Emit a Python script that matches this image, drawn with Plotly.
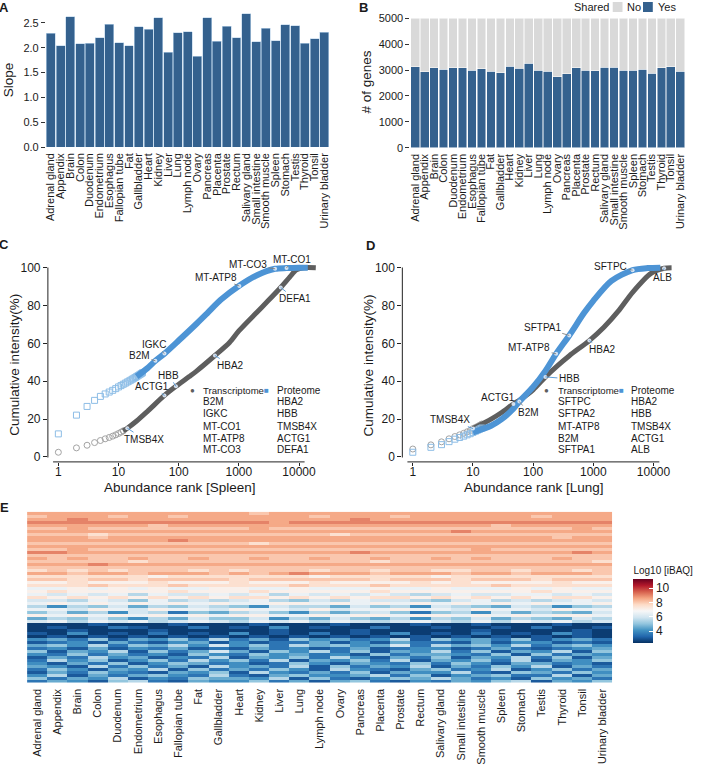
import math
import plotly.graph_objects as go

W, H = 703, 767
def px(x): return x / W
def py(y): return 1 - y / H

FONT = "Liberation Sans, Arial, Helvetica, sans-serif"
TXT = "#1a1a1a"
BAR_BLUE = "#34618E"
NO_GREY = "#D9D9D9"
PROT_BLUE = "#4D94D5"
PROT_LIGHT = "#8DBDE6"
TRANS_GREY = "#5E5E5E"
TRANS_LIGHT = "#A3A3A3"

# ---------------- data ----------------
tissues = ["Adrenal gland", "Appendix", "Brain", "Colon", "Duodenum", "Endometrium",
           "Esophagus", "Fallopian tube", "Fat", "Gallbladder", "Heart", "Kidney",
           "Liver", "Lung", "Lymph node", "Ovary", "Pancreas", "Placenta", "Prostate",
           "Rectum", "Salivary gland", "Small intestine", "Smooth muscle", "Spleen",
           "Stomach", "Testis", "Thyroid", "Tonsil", "Urinary bladder"]

slope = [2.29, 2.04, 2.63, 2.08, 2.09, 2.20, 2.47, 2.10, 2.04, 2.42, 2.37, 2.61, 1.91,
         2.30, 2.32, 1.83, 2.61, 2.13, 2.43, 2.20, 2.69, 2.12, 2.39, 2.14, 2.46, 2.44,
         2.09, 2.18, 2.31]

shared_yes = [3120, 2930, 3090, 3030, 3080, 3080, 2990, 3050, 2950, 2900, 3140, 3070,
              3270, 3000, 2960, 2750, 2860, 3090, 3000, 2980, 3110, 3110, 3000, 3000,
              3040, 2870, 3090, 3120, 2960]
shared_no = [1880, 2070, 1910, 1970, 1920, 1920, 2010, 1950, 2050, 2100, 1860, 1930,
             1730, 2000, 2040, 2250, 2140, 1910, 2000, 2020, 1890, 1890, 2000, 2000,
             1960, 2130, 1910, 1880, 2040]

rank_ticks = [1, 10, 100, 1000, 10000]
pct_ticks = [0, 20, 40, 60, 80, 100]

# Spleen (panel C)
spleen_trans_pt_rank = [1, 2, 3, 4, 5, 6, 7, 8, 9, 10, 11, 12]
spleen_trans_pt = [2.5, 4.8, 6.2, 7.6, 8.7, 9.6, 10.3, 11.0, 11.7, 12.4, 13.1, 13.8]
spleen_trans_rank = [12, 14, 20, 30, 58, 90, 150, 200, 400, 700, 1000, 2000, 3000, 4960,
                     7000, 9000, 12000, 19000]
spleen_trans = [13.8, 15.2, 19, 24, 32.5, 37.3, 42.5, 45.5, 53.6, 60.5, 66.6, 76.5, 82.2,
                89.5, 95, 98.8, 100, 100]
spleen_prot_pt_rank = list(range(1, 26))
spleen_prot_pt = [12.2, 22.1, 26.7, 29.9, 32.0, 33.3, 34.3, 35.2, 36.1, 37.0, 37.7, 38.4,
                  39.0, 39.6, 40.1, 40.6, 41.1, 41.6, 42.0, 42.5, 42.9, 43.3, 43.7, 44.1,
                  44.5]
spleen_prot_rank = [20, 30, 41, 58, 100, 200, 300, 500, 1000, 2000, 4000, 6200, 10000,
                    14000]
spleen_prot = [42.5, 46.8, 50.8, 54.6, 61.5, 70.5, 76, 83, 90.3, 96, 99.4, 99.8, 100, 100]

spleen_trans_top = ["B2M", "IGKC", "MT-CO1", "MT-ATP8", "MT-CO3"]
spleen_prot_top = ["HBA2", "HBB", "TMSB4X", "ACTG1", "DEFA1"]
# (gene, rank, value, dx, dy) labels on the proteome curve
spleen_lab_prot = [("B2M", 41, 50.8, -16, -5), ("IGKC", 58, 54.6, -10, -9),
                   ("MT-ATP8", 1020, 90.3, -23, -9), ("MT-CO3", 4000, 99.4, -27, -4),
                   ("MT-CO1", 6200, 99.8, 5, -9)]
# labels on the transcriptome curve
spleen_lab_trans = [("DEFA1", 4960, 89.5, 14, 11), ("HBA2", 400, 53.6, 16, 10),
                    ("HBB", 90, 37.3, -7, -11), ("ACTG1", 58, 32.5, -12, -9),
                    ("TMSB4X", 14, 15.2, 17, 11)]

# Lung (panel D)
lung_trans_pt_rank = list(range(1, 15))
lung_trans_pt = [4.2, 6.4, 8.0, 9.6, 10.8, 11.7, 12.5, 13.3, 14.0, 15.0, 15.6, 16.2,
                 16.8, 17.4]
lung_trans_rank = [10, 20, 30, 47, 59, 100, 160, 250, 400, 860, 1500, 2600, 4500, 9100,
                   15000, 20000]
lung_trans = [15, 20, 23.5, 28, 30, 35.5, 42.3, 48, 53.5, 61.5, 68.5, 77, 87, 97, 99.7,
              100]
lung_prot_pt_rank = list(range(1, 15))
lung_prot_pt = [2.5, 5.1, 6.5, 8.1, 9.4, 10.3, 11.0, 11.7, 12.3, 13.0, 13.6, 14.2, 14.8,
                15.3]
lung_prot_rank = [10, 20, 30, 47, 59, 100, 160, 241, 398, 700, 1000, 2000, 4500, 8000,
                  13000]
lung_prot = [13, 16.5, 20, 25.5, 29.3, 37, 45.5, 54.5, 64.2, 76, 82.5, 93, 98.7, 99.8,
             100]

lung_trans_top = ["SFTPC", "SFTPA2", "MT-ATP8", "B2M", "SFTPA1"]
lung_prot_top = ["HBA2", "HBB", "TMSB4X", "ACTG1", "ALB"]
lung_lab_prot = [("B2M", 59, 29.3, 9, 11), ("MT-ATP8", 241, 54.5, -27, -6),
                 ("SFTPA1", 398, 64.2, -27, -8), ("SFTPC", 4500, 98.7, -22, -4)]
lung_lab_trans = [("TMSB4X", 10, 15.0, -23, -9), ("ACTG1", 47, 28.0, -15, -6),
                  ("HBB", 160, 42.3, 24, 2), ("HBA2", 860, 61.5, 13, 9),
                  ("ALB", 15000, 99.7, -2, 9)]

# Heatmap (panel E): log10 iBAQ per row (gene) and tissue; one code per cell
heat_levels = {"0": 2.5, "1": 3.0, "2": 3.5, "3": 4.0, "4": 4.5, "5": 5.0, "6": 5.5,
               "7": 6.0, "8": 6.5, "9": 7.0, "a": 7.5, "b": 8.0, "c": 8.5, "d": 9.0,
               "e": 9.5, "f": 10.0}
heat_rows = [
    "ccccc ccccc cbccc ccccc ccccc cccc",
    "bcccb ccbcc ccccb cccbc ccccc bccc",
    "ccdcc ccccc ccccc cdccc ccccc cccc",
    "ddddd ddddd ddcdd ddddd ddddd dddd",
    "ccccc cbccc ccccc ccccc cccbc cccc",
    "bbcbb bbbbb bcbbb bbbbb bbbbb bbcb",
    "ccccc ccccc ccccc ccccc cdccc cccc",
    "bbbab bbbbb bbbbb abbbb bbbbb bbbb",
    "cccbc ccccc ccccc ccccc ccccc cbcc",
    "ccccc ccdcc ccccc ccccc ccccc cccc",
    "bbbbb bbbbb babbb bbbbb bbbbb bbbb",
    "ccccc ccccc ccccc ccccc ccccc cccc",
    "bbcbb bbbbb bbbbb bbbbb bbcbb bbbb",
    "ddccc ccccc ccccc cdccc ccccc ccdc",
    "bbbbb bbbbb bbbbb bbbbb bbbbb bbbb",
    "cbcbb cbbcb bcbbc bbcbb cbcbb bcbb",
    "bbbbb abbbb bbbbb bbabb bbbbb bbba",
    "cccdc ccccc ccccc ccccc ccccc cccc",
    "bbbbb bbbbb bbbbb bbbbb bbbbb bbbb",
    "ababa bbbab abbba bbabb aabba bbab",
    "ccbcc bcccb cbcdc ccbcc cbccb cccb",
    "aaaaa a9aaa aaaa9 aaaaa 9aaaa aaaa",
    "bbabb abbbb abbbb bbabb babbb abbb",
    "99a99 9a999 a999a 9999a 9a999 9a99",
    "aaaba aabaa aaaba aabaa aaaba aaaa",
    "88989 89889 98898 88988 98889 8988",
    "9a999 99a99 9a999 99a99 99999 a999",
    "87878 68778 78687 87876 78778 8787",
    "a9a9a 9a9a9 aa9a9 a9aa9 a9a9a 9aa9",
    "77687 58676 78657 68776 57867 6787",
    "89898 98989 88998 98989 89898 9889",
    "63657 46576 53766 47563 76547 6356",
    "88798 79887 98879 78898 87988 7988",
    "57463 76254 67536 46752 56374 6547",
    "98989 89898 99889 89989 98989 8998",
    "46575 36475 57364 75463 65746 5476",
    "78687 86787 68786 87678 76868 7867",
    "00010 00100 01000 10001 00100 0100",
    "01002 10020 10301 00200 10010 2001",
    "00100 01000 00100 01000 00100 0010",
    "10301 02010 30102 01030 10201 0310",
    "01010 10101 01010 10101 01010 1010",
    "34251 43526 24153 42361 53425 1342",
    "12314 21341 31224 13142 21413 3121",
    "45362 54637 35264 53472 64536 2453",
    "23141 32412 14231 24123 31242 1234",
    "51436 15247 41536 25143 62514 3615",
    "32524 23153 25342 31524 43251 5243",
    "14263 41326 14352 63142 51436 2514",
    "26351 35263 52614 35261 43526 1435",
    "31425 13542 31253 14325 25314 4231",
    "43162 52416 34261 52436 14253 6142",
    "25314 36152 42531 63214 52361 3524",
    "14253 21435 16324 25143 36215 4253",
    "36142 45326 21453 34625 13452 2614",
    "52436 13254 43615 21354 64231 5342",
    "24315 62143 35241 45213 24356 1435",
]
heat_z = []
for r in heat_rows:
    s = r.replace(" ", "")
    assert len(s) == len(tissues), (r, len(s))
    heat_z.append([heat_levels[c] for c in s])
heat_genes = ["g%d" % i for i in range(len(heat_rows))]

rdbu_r = ["#053061", "#2166AC", "#4393C3", "#92C5DE", "#D1E5F0", "#F7F7F7",
          "#FDDBC7", "#F4A582", "#D6604D", "#B2182B", "#67001F"]
colorscale = [[i / 10, c] for i, c in enumerate(rdbu_r)]

# ---------------- figure ----------------
fig = go.Figure()

# A
fig.add_trace(go.Bar(x=tissues, y=slope, xaxis="x", yaxis="y", showlegend=False,
                     marker=dict(color=BAR_BLUE, line=dict(color="#BCD4EA", width=0.6))))
# B
fig.add_trace(go.Bar(x=tissues, y=shared_yes, name="Yes", xaxis="x2", yaxis="y2",
                     showlegend=False,
                     marker=dict(color=BAR_BLUE, line=dict(color="white", width=0.5))))
fig.add_trace(go.Bar(x=tissues, y=shared_no, name="No", xaxis="x2", yaxis="y2",
                     showlegend=False,
                     marker=dict(color=NO_GREY, line=dict(color="white", width=0.5))))


def curve_panel(xa, ya, t_pr, t_p, t_r, t_v, p_pr, p_p, p_r, p_v, lab_p, lab_t):
    fig.add_trace(go.Scatter(x=t_pr, y=t_p, mode="markers", xaxis=xa, yaxis=ya,
                             showlegend=False,
                             marker=dict(symbol="circle-open", size=6, color=TRANS_LIGHT,
                                         line=dict(width=1))))
    fig.add_trace(go.Scatter(x=t_r, y=t_v, mode="lines", xaxis=xa, yaxis=ya,
                             showlegend=False,
                             line=dict(color=TRANS_GREY, width=5, shape="spline",
                                       smoothing=0.8)))
    fig.add_trace(go.Scatter(x=p_pr, y=p_p, mode="markers", xaxis=xa, yaxis=ya,
                             showlegend=False,
                             marker=dict(symbol="square-open", size=6, color=PROT_LIGHT,
                                         line=dict(width=1))))
    fig.add_trace(go.Scatter(x=p_r, y=p_v, mode="lines", xaxis=xa, yaxis=ya,
                             showlegend=False,
                             line=dict(color=PROT_BLUE, width=6, shape="spline",
                                       smoothing=0.8)))
    labs = lab_p + lab_t
    fig.add_trace(go.Scatter(x=[l[1] for l in labs], y=[l[2] for l in labs],
                             mode="markers", xaxis=xa, yaxis=ya, showlegend=False,
                             marker=dict(size=4, color="rgba(225,235,248,0.9)")))
    anns = []
    for items, col in ((lab_p, "#808080"), (lab_t, PROT_BLUE)):
        for g, r, v, dx, dy in items:
            anns.append(dict(text=g, x=math.log10(r), y=v, xref=xa, yref=ya,
                             ax=dx, ay=dy, showarrow=True, arrowhead=0, arrowwidth=0.9,
                             arrowcolor=col, standoff=0, startstandoff=0,
                             font=dict(size=10, color=TXT, family=FONT)))
    return anns


annotations = []
annotations += curve_panel("x3", "y3", spleen_trans_pt_rank, spleen_trans_pt,
                           spleen_trans_rank, spleen_trans, spleen_prot_pt_rank,
                           spleen_prot_pt, spleen_prot_rank, spleen_prot,
                           spleen_lab_prot, spleen_lab_trans)
annotations += curve_panel("x4", "y4", lung_trans_pt_rank, lung_trans_pt,
                           lung_trans_rank, lung_trans, lung_prot_pt_rank, lung_prot_pt,
                           lung_prot_rank, lung_prot, lung_lab_prot, lung_lab_trans)

# E
fig.add_trace(go.Heatmap(z=heat_z, x=tissues, y=heat_genes, xaxis="x5", yaxis="y5",
                         colorscale=colorscale, zmin=2.3, zmax=11.25,
                         colorbar=dict(x=px(637), xanchor="left", y=py(603.3),
                                       yanchor="middle", len=100, lenmode="pixels",
                                       thickness=20, thicknessmode="pixels",
                                       outlinewidth=0, tickvals=[4, 6, 8, 10],
                                       ticks="inside", ticklen=4, tickcolor="white",
                                       tickfont=dict(size=12, color=TXT, family=FONT),
                                       title=dict(text="Log10 [iBAQ]", side="top",
                                                  font=dict(size=10, color=TXT,
                                                            family=FONT)))))

tickfont = dict(size=11, color=TXT, family=FONT)
cat_axis = dict(type="category", tickangle=-90, tickfont=tickfont, showgrid=False,
                zeroline=False, showline=False, ticks="", automargin=False,
                tickmode="array", tickvals=tissues, ticktext=tissues,
                range=[-0.5, len(tissues) - 0.5], ticklabelstandoff=3)
val_axis = dict(showgrid=False, zeroline=False, showline=False, ticks="outside",
                ticklen=4, tickwidth=1, tickcolor="#333333", tickfont=tickfont,
                automargin=False)
log_axis = dict(type="log", range=[-0.174, 4.39], tickvals=rank_ticks,
                ticktext=[str(v) for v in rank_ticks], showgrid=False, zeroline=False,
                showline=False, ticks="outside", ticklen=3, tickwidth=1,
                tickcolor="#222222", tickfont=dict(size=12, color=TXT, family=FONT),
                automargin=False, ticklabelstandoff=-4)
pct_axis = dict(range=[-2.6, 105], tickvals=pct_ticks, showgrid=False, zeroline=False,
                showline=False, ticks="outside", ticklen=4, tickwidth=1,
                tickcolor="#222222", tickfont=dict(size=12, color=TXT, family=FONT),
                automargin=False)

layout = dict(
    width=W, height=H, margin=dict(l=0, r=0, t=0, b=0),
    paper_bgcolor="white", plot_bgcolor="white",
    font=dict(family=FONT, color=TXT), barmode="stack", bargap=0.08,
    showlegend=False,
    xaxis=dict(cat_axis, domain=[px(47), px(337)], anchor="y"),
    yaxis=dict(val_axis, domain=[py(147), py(6.6)], range=[0, 2.83], anchor="x",
               tickvals=[0, 0.5, 1.0, 1.5, 2.0, 2.5],
               ticktext=["0.0", "0.5", "1.0", "1.5", "2.0", "2.5"]),
    xaxis2=dict(cat_axis, domain=[px(420), px(701)], anchor="y2"),
    yaxis2=dict(val_axis, domain=[py(147.7), py(18.3)], range=[0, 5000], anchor="x2",
                tickvals=[0, 1000, 2000, 3000, 4000, 5000]),
    xaxis3=dict(log_axis, domain=[px(49), px(330)], anchor="y3"),
    yaxis3=dict(pct_axis, domain=[py(461.9), py(258.2)], anchor="x3"),
    xaxis4=dict(log_axis, domain=[px(411.7), px(692.7)], anchor="y4"),
    yaxis4=dict(pct_axis, domain=[py(461.9), py(258.2)], anchor="x4"),
    xaxis5=dict(cat_axis, domain=[px(27.7), px(626.7)], anchor="y5"),
    yaxis5=dict(domain=[py(682.7), py(511.7)], anchor="x5", showticklabels=False,
                ticks="", showgrid=False, zeroline=False, showline=False,
                range=[len(heat_rows) - 0.5, -0.5]),
)


def ptext(text, x, y, size=11, xanchor="center", yanchor="middle", angle=0,
          bold=False, color=TXT):
    return dict(text=("<b>%s</b>" % text) if bold else text, x=px(x), y=py(y),
                xref="paper", yref="paper", showarrow=False, xanchor=xanchor,
                yanchor=yanchor, textangle=angle,
                font=dict(size=size, color=color, family=FONT))


# panel letters
annotations += [ptext("A", 4.5, 8, 13, bold=True), ptext("B", 372, 8, 13, bold=True),
                ptext("C", 4.5, 244.5, 13, bold=True), ptext("D", 379, 246, 13, bold=True),
                ptext("E", 4.5, 507, 13, bold=True)]
# axis titles
annotations += [ptext("Slope", 8.5, 80, 13.5, angle=-90),
                ptext("# of genes", 375, 82, 13.5, angle=-90),
                ptext("Cumulative intensity(%)", 15, 365, 13.5, angle=-90),
                ptext("Cumulative intensity(%)", 378, 365, 13.5, angle=-90),
                ptext("Abundance rank [Spleen]", 184, 487, 13.5),
                ptext("Abundance rank [Lung]", 546, 487, 13.5)]
# legend of panel B
annotations += [ptext("Shared", 585, 7, 11, xanchor="left"),
                ptext("No", 640, 7, 11, xanchor="left"),
                ptext("Yes", 671, 7, 11, xanchor="left")]
shapes = [dict(type="rect", xref="paper", yref="paper", x0=px(627), x1=px(637),
               y0=py(12), y1=py(2), fillcolor=NO_GREY, line=dict(width=0)),
          dict(type="rect", xref="paper", yref="paper", x0=px(658), x1=px(668),
               y0=py(12), y1=py(2), fillcolor=BAR_BLUE, line=dict(width=0))]

# legends of panels C and D (top-gene lists)
row_y = [390.3, 402, 414, 426, 438, 449.5]
for (dot_x, t_x, sq_x, p_x, ttop, ptop) in [
        (197.3, 206, 273.2, 281.7, spleen_trans_top, spleen_prot_top),
        (559.3, 569, 635.5, 644, lung_trans_top, lung_prot_top)]:
    annotations.append(ptext("●", dot_x, row_y[0], 8, color=TRANS_GREY))
    annotations.append(ptext("Transcriptome", t_x, row_y[0], 9.6, xanchor="left"))
    annotations.append(ptext("■", sq_x, row_y[0], 8, color=PROT_BLUE))
    annotations.append(ptext("Proteome", p_x, row_y[0], 10, xanchor="left"))
    for i in range(5):
        annotations.append(ptext(ttop[i], t_x, row_y[i + 1], 10, xanchor="left"))
        annotations.append(ptext(ptop[i], p_x, row_y[i + 1], 10, xanchor="left"))

# capped axis lines for C and D
for x_ax, x_l, x_r in [(49, 54.3, 311.7), (411.7, 416.9, 674.7)]:
    shapes.append(dict(type="line", xref="paper", yref="paper", x0=px(x_ax), x1=px(x_ax),
                       y0=py(457.5), y1=py(267.5), line=dict(color="#222222", width=1)))
    shapes.append(dict(type="line", xref="paper", yref="paper", x0=px(x_l), x1=px(x_r),
                       y0=py(461.9), y1=py(461.9), line=dict(color="#222222", width=1)))

layout["annotations"] = annotations
layout["shapes"] = shapes
fig.update_layout(**layout)
fig.write_html("out.html", config={"displayModeBar": False},
               post_script="document.body.style.margin='0px';"
                           "document.body.style.overflow='hidden';")
